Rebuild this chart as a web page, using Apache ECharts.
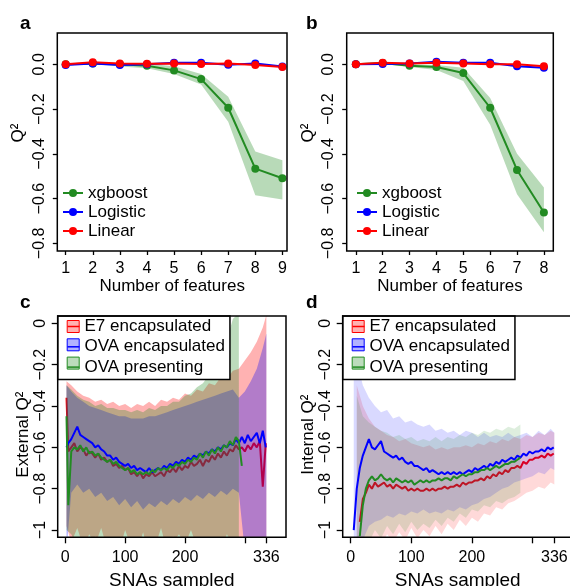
<!DOCTYPE html>
<html><head><meta charset="utf-8">
<script src="https://cdn.jsdelivr.net/npm/echarts@6/dist/echarts.min.js"></script>
<style>html,body{margin:0;padding:0;background:#fff}#c{width:570px;height:586px}</style>
</head><body><div id="c"></div>
<script>
// ---------- Panel a ----------
const xA = [1, 2, 3, 4, 5, 6, 7, 8, 9];
const aXgb   = [0.000, 0.004, 0.000, -0.006, -0.027, -0.066, -0.194, -0.466, -0.509];
const aXgbUp = [0.001, 0.006, 0.002, 0.004, -0.008, -0.043, -0.145, -0.390, -0.428];
const aXgbLo = [-0.001, 0.002, -0.010, -0.018, -0.043, -0.090, -0.257, -0.585, -0.604];
const aLogistic = [-0.003, 0.004, -0.003, 0.000, 0.007, 0.007, -0.002, 0.004, -0.010];
const aLinear   = [0.000, 0.009, 0.004, 0.003, 0.004, 0.002, 0.004, -0.003, -0.012];
// ---------- Panel b ----------
const xB = [1, 2, 3, 4, 5, 6, 7, 8];
const bXgb   = [0.000, 0.006, -0.006, -0.012, -0.039, -0.194, -0.472, -0.662];
const bXgbUp = [0.001, 0.008, 0.000, -0.003, -0.015, -0.150, -0.400, -0.550];
const bXgbLo = [-0.001, 0.002, -0.012, -0.025, -0.075, -0.270, -0.580, -0.750];
const bLogistic = [0.000, 0.001, 0.004, 0.012, 0.007, 0.007, -0.009, -0.015];
const bLinear   = [0.000, 0.007, 0.004, 0.007, 0.004, 0.000, 0.000, -0.009];
// ---------- Panels c, d : SNAs sampled ----------
const snaGrid = [2,5,10,15,20,25,30,35,40,45,50,55,60,65,70,75,80,85,90,95,100,105,110,115,120,125,130,135,140,145,150,155,160,165,170,175,180,185,190,195,200,205,210,215,220,225,230,235,240,245,250,255,260,265,270,275,280,285,290,295,300,305,310,315,320,325,330,335];
const bandGridC = [2,10,20,30,40,50,60,70,80,90,100,110,120,130,140,150,160,170,180,190,200,210,220,230,240,250,260,270,280,290,300,310,320,330,336];
const bandGridD = [5,10,20,30,40,50,60,70,80,90,100,110,120,130,140,150,160,170,180,190,200,210,220,230,240,250,260,270,280,290,300,310,320,330,336];

const cE7 = [-0.36,-0.62,-0.60,-0.58,-0.62,-0.60,-0.61,-0.64,-0.62,-0.63,
 -0.65,-0.63,-0.66,-0.65,-0.67,-0.66,-0.69,-0.68,-0.70,-0.69,
 -0.71,-0.70,-0.73,-0.72,-0.74,-0.72,-0.75,-0.73,-0.74,-0.72,
 -0.74,-0.73,-0.72,-0.74,-0.71,-0.72,-0.70,-0.72,-0.69,-0.71,
 -0.69,-0.70,-0.67,-0.69,-0.68,-0.66,-0.69,-0.66,-0.67,-0.64,
 -0.66,-0.63,-0.65,-0.62,-0.64,-0.61,-0.62,-0.59,-0.61,-0.60,
 -0.62,-0.59,-0.61,-0.58,-0.60,-0.57,-0.79,-0.58];
const cOvaEnc = [-0.60,-0.58,-0.56,-0.53,-0.50,-0.54,-0.55,-0.56,-0.57,-0.58,
 -0.60,-0.59,-0.61,-0.62,-0.64,-0.64,-0.66,-0.65,-0.67,-0.68,
 -0.69,-0.68,-0.70,-0.69,-0.71,-0.70,-0.71,-0.72,-0.70,-0.72,
 -0.71,-0.70,-0.71,-0.69,-0.70,-0.68,-0.69,-0.67,-0.68,-0.66,
 -0.67,-0.65,-0.66,-0.64,-0.65,-0.63,-0.64,-0.62,-0.63,-0.61,
 -0.62,-0.60,-0.61,-0.59,-0.60,-0.58,-0.59,-0.56,-0.58,-0.55,
 -0.58,-0.54,-0.57,-0.55,-0.53,-0.58,-0.52,-0.60];
const cOvaPres = [-0.45,-0.88,-0.62,-0.60,-0.61,-0.59,-0.62,-0.60,-0.63,-0.62,
 -0.64,-0.63,-0.65,-0.66,-0.67,-0.66,-0.68,-0.67,-0.69,-0.70,
 -0.71,-0.70,-0.72,-0.71,-0.73,-0.72,-0.73,-0.72,-0.73,-0.71,
 -0.72,-0.70,-0.71,-0.70,-0.71,-0.69,-0.70,-0.68,-0.69,-0.67,
 -0.68,-0.66,-0.67,-0.65,-0.66,-0.63,-0.65,-0.62,-0.64,-0.61,
 -0.63,-0.60,-0.62,-0.59,-0.60,-0.57,-0.59,-0.55,-0.57,-0.69];
const cE7Up = [-0.28,-0.30,-0.33,-0.35,-0.36,-0.38,-0.37,-0.39,-0.38,-0.40,
 -0.39,-0.41,-0.39,-0.40,-0.38,-0.40,-0.37,-0.38,-0.36,-0.37,
 -0.34,-0.35,-0.32,-0.33,-0.29,-0.30,-0.26,-0.27,-0.23,-0.22,
 -0.18,-0.14,-0.09,-0.02,0.04];
const cE7Lo = [-0.98,-1.06,-0.99,-1.08,-1.02,-1.07,-0.99,-1.09,-1.05,-1.10,
 -1.00,-1.08,-1.10,-1.01,-1.12,-1.08,-0.99,-1.10,-1.06,-1.02,
 -1.07,-1.00,-1.08,-1.04,-1.10,-1.05,-1.09,-1.02,-1.07,-1.10,
 -1.08,-1.12,-1.15,-1.20,-1.22];
const cOvaEncUp = [-0.30,-0.33,-0.36,-0.38,-0.40,-0.41,-0.42,-0.43,-0.44,-0.45,
 -0.45,-0.46,-0.46,-0.46,-0.45,-0.45,-0.44,-0.43,-0.42,-0.41,
 -0.40,-0.39,-0.38,-0.37,-0.36,-0.35,-0.34,-0.33,-0.32,-0.36,
 -0.33,-0.28,-0.22,-0.12,-0.05];
const cOvaEncLo = [-1.10,-0.82,-0.78,-0.82,-0.80,-0.84,-0.82,-0.86,-0.84,-0.88,
 -0.85,-0.89,-0.86,-0.90,-0.87,-0.89,-0.86,-0.88,-0.85,-0.87,
 -0.84,-0.86,-0.83,-0.85,-0.82,-0.84,-0.81,-0.83,-0.80,-0.82,
 -1.10,-1.12,-1.15,-1.18,-1.20];
const cOvaPresUp = [-0.30,-0.32,-0.35,-0.37,-0.38,-0.40,-0.39,-0.41,-0.41,-0.42,
 -0.42,-0.43,-0.42,-0.43,-0.41,-0.42,-0.40,-0.40,-0.38,-0.38,
 -0.35,-0.34,-0.31,-0.29,-0.25,-0.21,-0.15,-0.08,0.02,0.05];
const cOvaPresLo = [-1.00,-1.02,-1.08,-1.04,-1.10,-1.03,-1.08,-1.04,-1.10,-1.05,
 -1.09,-1.04,-1.08,-1.03,-1.07,-1.10,-1.05,-1.09,-1.03,-1.08,
 -1.04,-1.10,-1.05,-1.12,-1.08,-1.15,-1.12,-1.20,-1.25,-1.30];

const dOvaEnc = [null,-1.00,-0.80,-0.70,-0.64,-0.60,-0.56,-0.60,-0.61,-0.59,
 -0.57,-0.62,-0.63,-0.64,-0.65,-0.64,-0.66,-0.65,-0.67,-0.68,
 -0.67,-0.69,-0.69,-0.70,-0.71,-0.70,-0.72,-0.71,-0.72,-0.73,
 -0.72,-0.73,-0.72,-0.73,-0.72,-0.73,-0.72,-0.73,-0.72,-0.71,
 -0.72,-0.70,-0.71,-0.70,-0.69,-0.70,-0.68,-0.69,-0.67,-0.68,
 -0.66,-0.67,-0.66,-0.65,-0.66,-0.64,-0.65,-0.63,-0.64,-0.62,
 -0.63,-0.62,-0.62,-0.61,-0.62,-0.60,-0.61,-0.60];
const dE7 = [null,null,null,-0.96,-0.85,-0.82,-0.78,-0.80,-0.77,-0.79,
 -0.78,-0.77,-0.79,-0.78,-0.80,-0.78,-0.79,-0.80,-0.79,-0.81,
 -0.80,-0.81,-0.80,-0.81,-0.81,-0.80,-0.81,-0.80,-0.81,-0.80,
 -0.80,-0.79,-0.80,-0.79,-0.79,-0.78,-0.79,-0.77,-0.78,-0.77,
 -0.77,-0.76,-0.76,-0.75,-0.76,-0.74,-0.75,-0.73,-0.74,-0.72,
 -0.73,-0.71,-0.72,-0.70,-0.70,-0.69,-0.70,-0.67,-0.68,-0.66,
 -0.66,-0.65,-0.65,-0.64,-0.65,-0.63,-0.64,-0.63];
const dOvaPres = [null,null,null,-1.03,-0.88,-0.80,-0.76,-0.74,-0.76,-0.75,
 -0.73,-0.75,-0.76,-0.75,-0.77,-0.75,-0.76,-0.77,-0.76,-0.77,
 -0.76,-0.78,-0.77,-0.76,-0.77,-0.76,-0.77,-0.76,-0.76,-0.75,
 -0.76,-0.75,-0.75,-0.76,-0.74,-0.75,-0.74,-0.73,-0.74,-0.73,
 -0.73,-0.72,-0.72,-0.71,-0.71,-0.70,-0.71,-0.70,-0.69,-0.70,
 -0.69,-0.68,-0.68,-0.67,-0.67,-0.66,-0.65];
const dOvaEncUp = [-0.10,-0.18,-0.30,-0.36,-0.40,-0.43,-0.42,-0.46,-0.45,-0.48,
 -0.47,-0.49,-0.50,-0.49,-0.52,-0.51,-0.53,-0.52,-0.54,-0.52,
 -0.53,-0.55,-0.53,-0.55,-0.54,-0.55,-0.53,-0.55,-0.54,-0.53,
 -0.55,-0.52,-0.54,-0.51,-0.53];
const dOvaEncLo = [-1.10,-1.10,-1.05,-0.98,-0.96,-0.95,-0.93,-0.94,-0.92,-0.93,
 -0.91,-0.92,-0.90,-0.92,-0.91,-0.92,-0.90,-0.91,-0.89,-0.90,
 -0.88,-0.87,-0.85,-0.84,-0.82,-0.80,-0.79,-0.77,-0.76,-0.75,
 -0.74,-0.72,-0.73,-0.70,-0.71];
const dE7Up = [null,-0.30,-0.40,-0.46,-0.50,-0.52,-0.54,-0.55,-0.57,-0.56,
 -0.58,-0.59,-0.60,-0.59,-0.61,-0.60,-0.61,-0.60,-0.60,-0.59,
 -0.60,-0.58,-0.59,-0.57,-0.58,-0.56,-0.57,-0.55,-0.56,-0.54,
 -0.55,-0.53,-0.54,-0.52,-0.53];
const dE7Lo = [null,-1.20,-1.15,-1.10,-1.05,-1.08,-1.02,-1.06,-1.01,-1.05,
 -0.99,-1.04,-1.00,-1.03,-0.98,-1.02,-0.97,-1.00,-0.95,-0.98,
 -0.94,-0.96,-0.92,-0.93,-0.89,-0.90,-0.87,-0.86,-0.84,-0.82,
 -0.81,-0.79,-0.80,-0.77,-0.78];
const dOvaPresUp = [null,-0.35,-0.45,-0.48,-0.50,-0.52,-0.53,-0.55,-0.54,-0.56,
 -0.55,-0.57,-0.56,-0.57,-0.55,-0.57,-0.55,-0.56,-0.54,-0.55,
 -0.53,-0.54,-0.52,-0.53,-0.51,-0.52,-0.50,-0.51,-0.49];
const dOvaPresLo = [null,-1.20,-1.12,-1.06,-1.00,-1.04,-0.98,-1.02,-0.97,-1.01,
 -0.96,-1.00,-0.97,-0.99,-0.95,-0.98,-0.94,-0.96,-0.92,-0.94,
 -0.90,-0.91,-0.88,-0.89,-0.86,-0.87,-0.85,-0.84,-0.82];

// ---------- tick labels ----------
const yTicksAB = [-0.8, -0.6, -0.4, -0.2, 0];
const yLabelsAB = ['\u22120.8', '\u22120.6', '\u22120.4', '\u22120.2', '0.0'];
const yTicksCD = [-1, -0.8, -0.6, -0.4, -0.2, 0];
const yLabelsCD = ['\u22121', '\u22120.8', '\u22120.6', '\u22120.4', '\u22120.2', '0'];
const xTicksCD = [0, 100, 200, 300, 336];
const xLabelValsCD = [0, 100, 200, 336];
const xLabelsCD = ['0', '100', '200', '336'];
const modelNames = ['xgboost', 'Logistic', 'Linear'];
const groupNames = ['E7 encapsulated', 'OVA encapsulated', 'OVA presenting'];

// ---------- styling ----------
const FONT = '"Liberation Sans", Arial, Helvetica, sans-serif';
const RED = '#ff0000', BLUE = '#0000ff', GREEN = '#228b22';

function lookup(vals, texts) {
  return v => { const i = vals.findIndex(t => Math.abs(t - v) < 1e-6); return i >= 0 ? texts[i] : ''; };
}
function band(xs, lo, hi, fill, gi, z) {
  const pts = [];
  xs.forEach((x, i) => { if (i < lo.length && lo[i] != null && hi[i] != null) pts.push([x, lo[i], hi[i]]); });
  return {
    type: 'custom', xAxisIndex: gi, yAxisIndex: gi, clip: true, silent: true, z: z,
    data: pts, encode: { x: 0, y: [1, 2] },
    renderItem(params, api) {
      if (params.dataIndex !== 0) return null;
      const top = pts.map(p => api.coord([p[0], p[2]]));
      const bot = pts.map(p => api.coord([p[0], p[1]])).reverse();
      return { type: 'polygon', shape: { points: top.concat(bot) }, style: { fill: fill } };
    }
  };
}
function line(name, xs, ys, color, gi, withSymbol, z) {
  return {
    type: 'line', name: name, xAxisIndex: gi, yAxisIndex: gi, clip: true, silent: true, z: z,
    data: ys.map((y, i) => [xs[i], y]),
    color: color, lineStyle: { color: color, width: 2 }, itemStyle: { color: color },
    symbol: withSymbol ? 'circle' : 'none', symbolSize: 8, showSymbol: !!withSymbol,
    connectNulls: false
  };
}
function xAxis(gi, min, max, ticks, labVals, labTexts, name, nameGap, margin, tickLen, nameSize) {
  return {
    type: 'value', gridIndex: gi, min: min, max: max, position: 'bottom',
    axisLine: { show: false, onZero: false }, splitLine: { show: false },
    axisTick: { show: true, customValues: ticks, length: tickLen, lineStyle: { color: '#000', width: 1.3 } },
    axisLabel: { show: true, customValues: labVals, formatter: lookup(labVals, labTexts), fontSize: 16, color: '#000', fontFamily: FONT, margin: margin },
    name: name, nameLocation: 'middle', nameGap: nameGap,
    nameTextStyle: { fontSize: nameSize, color: '#000', fontFamily: FONT }
  };
}
function yAxis(gi, min, max, ticks, labTexts, name, nameGap, margin, tickLen, pad) {
  return {
    type: 'value', gridIndex: gi, min: min, max: max, position: 'left',
    axisLine: { show: false, onZero: false }, splitLine: { show: false },
    axisTick: { show: true, customValues: ticks, length: tickLen, lineStyle: { color: '#000', width: 1.3 } },
    axisLabel: { show: true, customValues: ticks, formatter: lookup(ticks, labTexts), rotate: 90, fontSize: 16, color: '#000', fontFamily: FONT, margin: margin },
    name: name, nameLocation: 'middle', nameGap: nameGap, nameRotate: 90,
    nameTextStyle: { fontSize: 17, color: '#000', fontFamily: FONT, padding: pad }
  };
}
const gridBase = { show: true, borderColor: '#000', borderWidth: 1.5, backgroundColor: 'transparent', containLabel: false, outerBoundsMode: 'none', z: 10 };

const series = [
  band(xA, aXgbLo, aXgbUp, 'rgba(34,139,34,0.32)', 0, 1),
  line(modelNames[0], xA, aXgb, GREEN, 0, true, 2),
  line(modelNames[1], xA, aLogistic, BLUE, 0, true, 2),
  line(modelNames[2], xA, aLinear, RED, 0, true, 2),
  band(xB, bXgbLo, bXgbUp, 'rgba(34,139,34,0.32)', 1, 1),
  line(modelNames[0], xB, bXgb, GREEN, 1, true, 2),
  line(modelNames[1], xB, bLogistic, BLUE, 1, true, 2),
  line(modelNames[2], xB, bLinear, RED, 1, true, 2),
  band(bandGridC, cE7Lo, cE7Up, 'rgba(255,0,0,0.3)', 2, 1),
  line(groupNames[0], snaGrid, cE7, RED, 2, false, 2),
  band(bandGridC, cOvaEncLo, cOvaEncUp, 'rgba(0,0,255,0.3)', 2, 3),
  band(bandGridC, cOvaPresLo, cOvaPresUp, 'rgba(34,139,34,0.3)', 2, 4),
  line(groupNames[1], snaGrid, cOvaEnc, BLUE, 2, false, 5),
  line(groupNames[2], snaGrid, cOvaPres, GREEN, 2, false, 6),
  band(bandGridD, dE7Lo, dE7Up, 'rgba(255,0,0,0.15)', 3, 1),
  line(groupNames[0], snaGrid, dE7, RED, 3, false, 2),
  band(bandGridD, dOvaEncLo, dOvaEncUp, 'rgba(0,0,255,0.15)', 3, 3),
  band(bandGridD, dOvaPresLo, dOvaPresUp, 'rgba(34,139,34,0.15)', 3, 4),
  line(groupNames[1], snaGrid, dOvaEnc, BLUE, 3, false, 5),
  line(groupNames[2], snaGrid, dOvaPres, GREEN, 3, false, 6)
];

function modelLegend(left) {
  return { orient: 'vertical', left: left, top: 184.5, padding: 0, itemGap: 2, itemWidth: 20, itemHeight: 10,
    selectedMode: false, data: modelNames, textStyle: { fontSize: 17, color: '#000', fontFamily: FONT } };
}
const darkCols = [RED, BLUE, GREEN];
const lightCols = ['rgba(255,0,0,0.3)', 'rgba(0,0,255,0.3)', 'rgba(34,139,34,0.3)'];
function groupLegendText(left) {
  return { orient: 'vertical', left: left, top: 316, padding: [2, 5, 4, 9], itemGap: 3.3, itemWidth: 12, itemHeight: 17,
    icon: 'line', selectedMode: false, backgroundColor: '#fff', borderColor: '#000', borderWidth: 1.5, z: 8,
    data: groupNames.map((n, i) => ({ name: n, itemStyle: { color: darkCols[i], borderColor: darkCols[i], borderWidth: 1.5 } })),
    textStyle: { fontSize: 17, color: '#000', fontFamily: FONT } };
}
function groupLegendIcons(left) {
  return { orient: 'vertical', left: left, top: 316, padding: [2, 5, 4, 9], itemGap: 3.3, itemWidth: 12, itemHeight: 17,
    icon: 'path://M0,0H10V10H0Z', symbolKeepAspect: true, selectedMode: false, z: 9, formatter: () => '',
    data: groupNames.map((n, i) => ({ name: n, itemStyle: { color: lightCols[i], borderColor: darkCols[i], borderWidth: 1 } })),
    textStyle: { fontSize: 17, color: '#000', fontFamily: FONT } };
}

const option = {
  animation: false,
  backgroundColor: '#fff',
  textStyle: { fontFamily: FONT },
  grid: [
    Object.assign({}, gridBase, { left: 57.3, top: 33, width: 229.7, height: 218 }),
    Object.assign({}, gridBase, { left: 346.7, top: 33, width: 206.6, height: 218 }),
    Object.assign({}, gridBase, { left: 57.7, top: 316, width: 228.3, height: 221.3 }),
    Object.assign({}, gridBase, { left: 342.7, top: 316, width: 230, height: 221.3 })
  ],
  xAxis: [
    xAxis(0, 0.69, 9.17, xA, xA, xA.map(String), 'Number of features', 26, 9.5, 4, 17),
    xAxis(1, 0.66, 8.35, xB, xB, xB.map(String), 'Number of features', 26, 9.5, 4, 17),
    xAxis(2, -12.7, 368.8, xTicksCD, xLabelValsCD, xLabelsCD, 'SNAs sampled', 34, 12, 6, 19),
    xAxis(3, -13.2, 366.3, xTicksCD, xLabelValsCD, xLabelsCD, 'SNAs sampled', 34, 12, 6, 19)
  ],
  yAxis: [
    yAxis(0, -0.834, 0.14, yTicksAB, yLabelsAB, 'Q\u00b2', 30, 10, 4.5, [0, 0, 0, 18]),
    yAxis(1, -0.834, 0.14, yTicksAB, yLabelsAB, 'Q\u00b2', 30, 10, 4.5, [0, 0, 0, 18]),
    yAxis(2, -1.035, 0.035, yTicksCD, yLabelsCD, 'External Q\u00b2', 25, 9, 6, [0, 16, 0, 0]),
    yAxis(3, -1.035, 0.035, yTicksCD, yLabelsCD, 'Internal Q\u00b2', 25, 9, 6, [0, 16, 0, 0])
  ],
  legend: [modelLegend(62), modelLegend(356), groupLegendText(57.7), groupLegendIcons(57.7), groupLegendText(342.7), groupLegendIcons(342.7)],
  graphic: [
    { type: 'text', left: 20, top: 14, style: { text: 'a', font: 'bold 19px ' + FONT, fill: '#000' } },
    { type: 'text', left: 306, top: 14, style: { text: 'b', font: 'bold 19px ' + FONT, fill: '#000' } },
    { type: 'text', left: 20, top: 293, style: { text: 'c', font: 'bold 19px ' + FONT, fill: '#000' } },
    { type: 'text', left: 306, top: 293, style: { text: 'd', font: 'bold 19px ' + FONT, fill: '#000' } }
  ],
  series: series
};
const chart = echarts.init(document.getElementById('c'), null, { renderer: 'canvas' });
chart.setOption(option);
</script>
</body></html>
